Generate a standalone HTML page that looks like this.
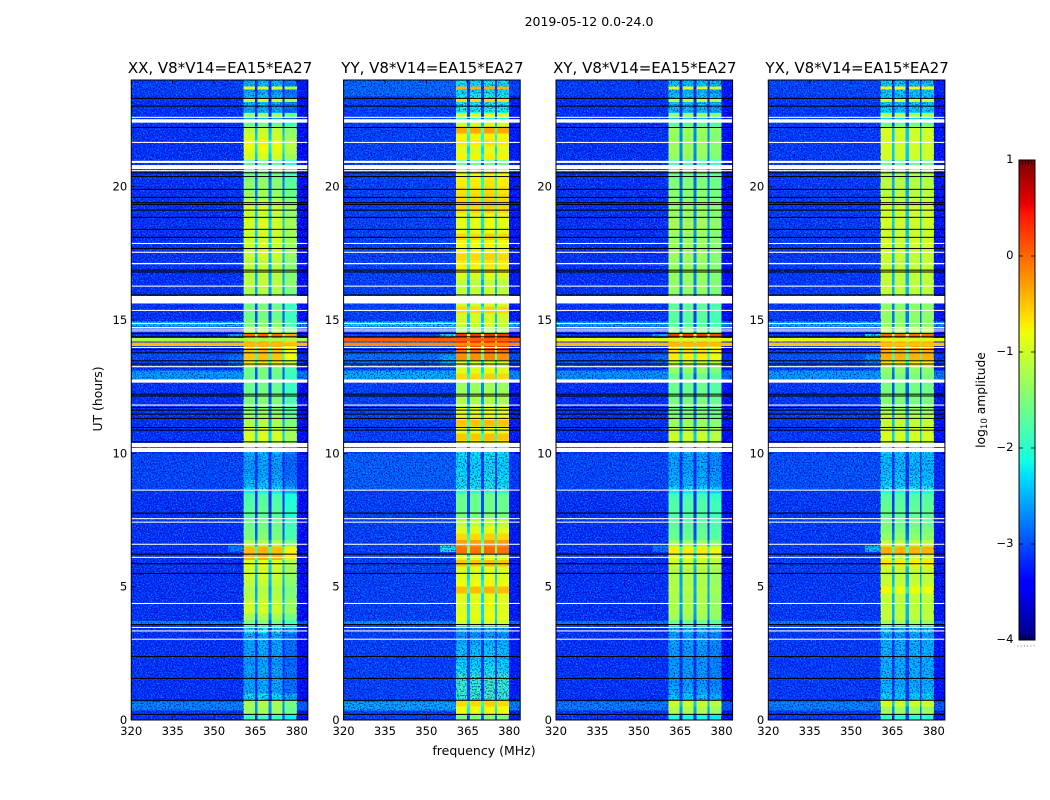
<!DOCTYPE html>
<html lang="en">
<head>
<meta charset="utf-8">
<title>2019-05-12 amplitude dynamic spectra</title>
<style>
html,body{margin:0;padding:0;background:#fff;width:1050px;height:800px;overflow:hidden}
svg{display:block}
text{font-family:"DejaVu Sans","Liberation Sans",sans-serif;fill:#000}
</style>
</head>
<body>
<svg id="chart" xmlns="http://www.w3.org/2000/svg" width="1050" height="800" viewBox="0 0 1050 800">
<defs>
<filter id="speckle" x="0" y="0" width="100%" height="100%" color-interpolation-filters="sRGB">
<feTurbulence type="fractalNoise" baseFrequency="0.72" numOctaves="2" seed="7"/>
<feColorMatrix type="matrix" values="0 0 0 0 0  0 0 0 0 0.6  0 0 0 0 1  5 0 0 0 -2.5"/>
</filter>
<filter id="speckle-dark" x="0" y="0" width="100%" height="100%" color-interpolation-filters="sRGB">
<feTurbulence type="fractalNoise" baseFrequency="0.66" numOctaves="2" seed="23"/>
<feColorMatrix type="matrix" values="0 0 0 0 0  0 0 0 0 0  0 0 0 0 0.7  0 5 0 0 -2.5"/>
</filter>
</defs>
<text x="589" y="26" text-anchor="middle" font-size="12.5">2019-05-12 0.0-24.0</text>
<text x="484" y="755" text-anchor="middle" font-size="12.5">frequency (MHz)</text>
<text x="102" y="399" text-anchor="middle" font-size="12.4" transform="rotate(-90 102 399)">UT (hours)</text>
<text x="985" y="400" text-anchor="middle" font-size="12.3" transform="rotate(-90 985 400)">log<tspan font-size="8.6" dy="2">10</tspan><tspan dy="-2"> amplitude</tspan></text>
<g id="panels"></g>
<g id="colorbar"></g>
</svg>
<script>
// ---------- data ----------
const panelTitles = ['XX, V8*V14=EA15*EA27', 'YY, V8*V14=EA15*EA27', 'XY, V8*V14=EA15*EA27', 'YX, V8*V14=EA15*EA27'];
const freqTicks = [320, 335, 350, 365, 380];
const hourTicks = [0, 5, 10, 15, 20];
const colorTicks = [1, 0, -1, -2, -3, -4];

// frequency edges (MHz): background, spw1, gap, spw2, gap, spw3, gap, spw4, background
const freqEdges = [320, 360.7, 364.8, 365.8, 369.8, 370.9, 374.9, 375.6, 380, 384];

// in-band log10 amplitude, one value per quarter hour, hour 0 to 24
const xxBand = [
 -1.9,-1.3,-1.25,-2.2, -2.5,-2.5,-2.55,-2.5, -2.55,-2.55,-2.5,-2.5, -2.5,-2.2,-1.5,-1.25,
 -1.0,-1.05,-1.15,-1.2, -1.1,-1.05,-1.0,-0.9, -0.4,-0.45,-1.2,-1.5, -1.55,-1.6,-1.7,-1.7,
 -1.75,-1.8,-2.2,-2.4, -2.5,-2.55,-2.55,-2.5, -2.3,-1.0,-0.95,-1.0, -1.2,-1.3,-1.4,-1.5,
 -1.5,-1.6,-1.6,-1.6, -1.55,-0.7,-0.5,-0.45, -0.3,0.0,-1.2,-1.5, -1.6,-1.6,-1.6,-1.3,
 -1.2,-1.1,-1.15,-1.1, -1.15,-1.05,-1.0,-1.0, -1.0,-1.0,-0.95,-1.05, -1.0,-1.1,-1.3,-1.35,
 -1.4,-1.5,-1.6,-1.7, -1.0,-0.85,-0.8,-1.0, -1.1,-1.6,-2.5,-2.5, -2.4,-2.4,-2.5,-2.4
];
const yyBand = [
 -1.5,-0.8,-0.6,-1.9, -1.9,-1.9,-2.0,-2.2, -2.25,-2.35,-2.35,-2.45, -2.6,-2.5,-1.0,-0.85,
 -0.9,-0.9,-0.9,-0.45, -0.8,-0.9,-0.9,-0.5, -0.9,-0.05,-0.3,-0.6, -0.9,-1.1,-1.5,-1.6,
 -1.6,-1.6,-2.0,-2.2, -2.2,-2.25,-2.25,-2.2, -2.1,-0.6,-0.5,-0.85, -0.5,-0.85,-0.85,-1.2,
 -1.2,-1.3,-1.3,-0.6, -0.9,-0.9,-0.2,0.0, 0.55,0.3,-1.3,-1.0, -1.0,-0.6,-1.0,-1.0,
 -1.1,-1.1,-0.95,-0.75, -0.7,-0.6,-0.8,-0.8, -0.6,-0.85,-0.85,-0.85, -0.6,-0.55,-0.6,-0.65,
 -0.7,-0.75,-0.95,-1.6, -0.75,-0.9,-0.7,-0.75, -0.35,-1.0,-2.1,-2.1, -2.1,-2.1,-2.2,-2.2
];
const xyBand = [
 -2.1,-1.2,-1.0,-2.3, -2.5,-2.55,-2.55,-2.55, -2.55,-2.55,-2.55,-2.5, -2.55,-2.4,-1.6,-1.25,
 -1.2,-1.2,-1.2,-1.15, -1.2,-1.2,-1.15,-1.0, -0.9,-0.7,-1.3,-1.6, -1.65,-1.7,-1.75,-1.75,
 -1.75,-1.85,-2.2,-2.4, -2.45,-2.5,-2.5,-2.5, -2.3,-1.05,-1.0,-1.1, -1.3,-1.45,-1.5,-1.5,
 -1.55,-1.6,-1.6,-1.6, -1.35,-1.0,-0.7,-0.6, -0.3,0.3,-1.5,-1.7, -1.7,-1.7,-1.7,-1.4,
 -1.35,-1.35,-1.35,-1.3, -1.35,-1.3,-1.3,-1.3, -1.3,-1.25,-1.25,-1.3, -1.3,-1.3,-1.4,-1.4,
 -1.45,-1.5,-1.6,-1.8, -1.35,-1.3,-1.3,-1.35, -1.3,-1.7,-2.4,-2.4, -2.3,-2.3,-2.4,-2.3
];
const yxBand = [
 -2.0,-1.3,-1.0,-2.25, -2.4,-2.45,-2.45,-2.45, -2.45,-2.45,-2.45,-2.45, -2.5,-2.35,-1.3,-1.1,
 -1.1,-1.1,-1.1,-0.8, -1.05,-1.1,-1.05,-0.7, -1.0,-0.4,-1.1,-1.4, -1.5,-1.6,-1.65,-1.65,
 -1.7,-1.75,-2.1,-2.3, -2.35,-2.4,-2.4,-2.4, -2.2,-1.0,-0.95,-1.0, -1.05,-1.1,-1.3,-1.5,
 -1.5,-1.55,-1.55,-1.5, -1.4,-0.7,-0.4,-0.35, -0.3,0.0,-1.2,-1.4, -1.4,-1.4,-1.4,-1.2,
 -1.1,-1.1,-1.1,-1.05, -1.1,-1.05,-1.0,-1.0, -1.0,-1.05,-1.0,-1.0, -1.0,-1.05,-1.1,-1.15,
 -1.15,-1.2,-1.3,-1.6, -1.0,-1.0,-0.95,-1.0, -1.0,-1.6,-2.3,-2.3, -2.3,-2.3,-2.3,-2.3
];

// per-sub-band offsets added to the in-band level
const xxGain = [0, 0.05, 0, -0.3];
const yyGain = [0, 0, 0.05, 0];
const xyGain = [0, 0, 0, -0.12];
const yxGain = [0.03, 0, 0, 0];
const gapDrop = [1.4];

// background level outside the band
const bgLevels = [-3.17, -3.08, -3.17, -3.12];
const bgRightDrop = [0.2];

// narrow in-band strips
const bandStripStart = [23.65, 23.17, 22.6];
const bandStripEnd = [23.75, 23.3, 22.76];
const xxStrip = [-0.9, -1.0, -1.3];
const yyStrip = [-0.4, -0.6, -1.0];
const xyStrip = [-0.9, -1.1, -1.3];
const yxStrip = [-0.8, -1.0, -1.2];

// out-of-band brightening, hour ranges
const bgStripStart = [0.35, 3.56, 8.6, 12.77, 13.2, 14.75, 23.4];
const bgStripEnd = [0.7, 3.72, 10.0, 13.1, 13.8, 14.95, 24];
const xxBgStrip = [-2.7, -2.7, -3.05, -2.55, -3.0, -2.35, -3.1];
const yyBgStrip = [-2.5, -2.6, -2.9, -2.45, -2.8, -2.2, -2.85];
const xyBgStrip = [-2.75, -2.75, -3.05, -2.6, -3.0, -2.5, -3.1];
const yxBgStrip = [-2.7, -2.7, -3.0, -2.55, -2.95, -2.4, -3.05];

// shoulder leaking below the band (355 to 360.7 MHz)
const shoulderStart = [6.3, 13.3, 14.38];
const shoulderEnd = [6.55, 13.7, 14.48];
const xxShoulder = [-2.75, -2.8, -2.5];
const yyShoulder = [-2.15, -2.5, -2.0];
const xyShoulder = [-2.8, -2.85, -2.5];
const yxShoulder = [-2.4, -2.65, -2.2];

// strong broadband interference across the whole width
const rfiStart = [14.03, 14.2];
const rfiEnd = [14.15, 14.32];
const xxRfi = [-0.45, -1.2];
const yyRfi = [-0.2, 0.05];
const xyRfi = [-0.45, -0.9];
const yxRfi = [-0.5, -0.9];

// faint band hour ranges that carry visible grain
const grainBandStart = [0.75, 8.6, 22.8];
const grainBandEnd = [3.5, 10.2, 24];

// flagged time ranges (hours)
const whiteStart = [22.58,22.4,21.64,20.89,20.66,20.58,17.85,17.52,17.09,16.25,15.62,15.34,14.85,14.7,14.64,14.57,13.95,13.23,12.65,11.79,10.23,10.05,8.6,7.53,7.4,6.57,6.08,4.35,3.45,3.32,3.01];
const whiteEnd   = [22.62,22.53,21.68,20.97,20.81,20.62,17.89,17.56,17.14,16.29,15.9,15.38,14.89,14.74,14.68,14.61,13.99,13.27,12.77,11.83,10.39,10.2,8.64,7.57,7.44,6.61,6.12,4.39,3.49,3.36,3.05];
const blackHours = [23.31,23.02,22.22,20.52,20.38,19.9,19.6,19.4,19.33,19.12,18.85,18.4,18.1,17.68,16.87,16.8,15.94,14.5,14.37,13.9,13.77,13.47,13.35,12.22,12.15,11.72,11.62,11.47,11.31,10.97,10.87,10.43,7.76,6.22,5.86,5.5,3.58,2.38,1.56,0.74,0.21];

const bandSets = [xxBand, yyBand, xyBand, yxBand];
const gainSets = [xxGain, yyGain, xyGain, yxGain];
const stripSets = [xxStrip, yyStrip, xyStrip, yxStrip];
const bgStripSets = [xxBgStrip, yyBgStrip, xyBgStrip, yxBgStrip];
const shoulderSets = [xxShoulder, yyShoulder, xyShoulder, yxShoulder];
const rfiSets = [xxRfi, yyRfi, xyRfi, yxRfi];

// ---------- scales ----------
const NS = 'http://www.w3.org/2000/svg';
const panelLefts = [131.25, 343.6, 556, 768.3];
const panelWidth = 176.6, plotTop = 80, plotBottom = 720;
const vMin = -4, vMax = 1;
function yScale(h) { return plotBottom - (h / 24) * (plotBottom - plotTop); }
function xScale(panel, f) { return panelLefts[panel] + (f - 320) / 64 * panelWidth; }
function interp(x, pts) {
  for (let i = 1; i < pts.length; i++) {
    if (x <= pts[i][0]) {
      const t = (x - pts[i-1][0]) / (pts[i][0] - pts[i-1][0]);
      return pts[i-1][1] + t * (pts[i][1] - pts[i-1][1]);
    }
  }
  return pts[pts.length-1][1];
}
function jet(v) {
  const x = Math.max(0, Math.min(1, (v - vMin) / (vMax - vMin)));
  const r = interp(x, [[0,0],[0.35,0],[0.66,1],[0.89,1],[1,0.5]]);
  const g = interp(x, [[0,0],[0.125,0],[0.375,1],[0.64,1],[0.91,0],[1,0]]);
  const b = interp(x, [[0,0.5],[0.11,1],[0.34,1],[0.65,0],[1,0]]);
  return 'rgb(' + Math.round(r*255) + ',' + Math.round(g*255) + ',' + Math.round(b*255) + ')';
}
function make(parent, tag, attrs) {
  const el = document.createElementNS(NS, tag);
  for (const k in attrs) el.setAttribute(k, attrs[k]);
  parent.appendChild(el);
  return el;
}
function cell(g, p, f0, f1, h0, h1, v) {
  const y0 = yScale(h1), y1 = yScale(h0);
  const el = make(g, 'rect', {x: xScale(p, f0), y: y0, width: xScale(p, f1) - xScale(p, f0), height: y1 - y0, fill: jet(v), 'shape-rendering': 'crispEdges'});
  
  
  return el;
}
function grain(g, p, f0, f1, h0, h1, opLight, opDark) {
  const box = {x: xScale(p, f0), y: yScale(h1), width: xScale(p, f1) - xScale(p, f0), height: yScale(h0) - yScale(h1)};
  const a = make(g, 'rect', Object.assign({filter: 'url(#speckle)', opacity: opLight}, box));
  
  
  const b = make(g, 'rect', Object.assign({filter: 'url(#speckle-dark)', opacity: opDark}, box));
  
  
}

const panelsRoot = document.getElementById('panels');
panelTitles.forEach(function (title, p) {
  const g = make(panelsRoot, 'g', {});
  
  
  const clipId = 'clip' + p;
  const defs = make(g, 'defs', {});
  const clip = make(defs, 'clipPath', {id: clipId});
  make(clip, 'rect', {x: panelLefts[p], y: plotTop, width: panelWidth, height: plotBottom - plotTop});
  const heat = make(g, 'g', {'clip-path': 'url(#' + clipId + ')'});
  
  

  const band = bandSets[p], gain = gainSets[p];
  // base background
  cell(heat, p, freqEdges[0], freqEdges[1], 0, 24, bgLevels[p]);
  cell(heat, p, freqEdges[8], freqEdges[9], 0, 24, bgLevels[p] - bgRightDrop[0]);
  bgStripSets[p].forEach(function (v, i) {
    cell(heat, p, freqEdges[0], freqEdges[1], bgStripStart[i], bgStripEnd[i], v);
    cell(heat, p, freqEdges[8], freqEdges[9], bgStripStart[i], bgStripEnd[i], v - bgRightDrop[0]);
  });
  shoulderSets[p].forEach(function (v, i) {
    cell(heat, p, 355, freqEdges[1], shoulderStart[i], shoulderEnd[i], v);
  });
  // band rows
  band.forEach(function (v, r) {
    const h0 = r * 24 / band.length, h1 = (r + 1) * 24 / band.length;
    for (let c = 0; c < 4; c++) {
      cell(heat, p, freqEdges[1 + 2*c], freqEdges[2 + 2*c], h0, h1, v + gain[c]);
      if (c < 3) cell(heat, p, freqEdges[2 + 2*c], freqEdges[3 + 2*c], h0, h1, Math.max(v - gapDrop[0], bgLevels[p]));
    }
  });

  // decorative grain: strong off-band, weak on-band
  grain(heat, p, freqEdges[0], freqEdges[1], 0, 24, 0.85, 0.8);
  grain(heat, p, freqEdges[8], freqEdges[9], 0, 24, 0.6, 0.8);
  grainBandStart.forEach(function (h0, i) {
    grain(heat, p, freqEdges[1], freqEdges[8], h0, grainBandEnd[i], 0.55, 0.7);
  });

  stripSets[p].forEach(function (v, i) {
    for (let c = 0; c < 4; c++) {
      cell(heat, p, freqEdges[1 + 2*c], freqEdges[2 + 2*c], bandStripStart[i], bandStripEnd[i], v + gain[c]);
    }
  });
  rfiSets[p].forEach(function (v, i) {
    cell(heat, p, 320, 384, rfiStart[i], rfiEnd[i], v);
  });

  // flags
  whiteStart.forEach(function (h0, i) {
    const y0 = yScale(whiteEnd[i]), y1 = yScale(h0);
    const el = make(heat, 'rect', {x: panelLefts[p], y: y0, width: panelWidth, height: y1 - y0, fill: '#fff'});
    
    
  });
  blackHours.forEach(function (h) {
    const el = make(heat, 'rect', {x: panelLefts[p], y: yScale(h) - 0.5, width: panelWidth, height: 1, fill: '#000'});
    
    
  });

  // frame
  const L = panelLefts[p], R = L + panelWidth;
  const frame = make(g, 'rect', {x: L, y: plotTop, width: panelWidth, height: plotBottom - plotTop, fill: 'none', stroke: '#000', 'stroke-width': 1});
  
  

  // ticks + labels
  freqTicks.forEach(function (f) {
    const x = xScale(p, f);
    make(g, 'line', {x1: x, x2: x, y1: plotBottom, y2: plotBottom - 4, stroke: '#000', 'stroke-width': 0.8});
    make(g, 'line', {x1: x, x2: x, y1: plotTop, y2: plotTop + 4, stroke: '#000', 'stroke-width': 0.8});
    const t = make(g, 'text', {x: x, y: plotBottom + 15, 'text-anchor': 'middle', 'font-size': 11.6});
    t.textContent = String(f);
    
    
  });
  hourTicks.forEach(function (h) {
    const y = yScale(h);
    make(g, 'line', {x1: L, x2: L + 4, y1: y, y2: y, stroke: '#000', 'stroke-width': 0.8});
    make(g, 'line', {x1: R, x2: R - 4, y1: y, y2: y, stroke: '#000', 'stroke-width': 0.8});
    const t = make(g, 'text', {x: L - 4, y: y + 4, 'text-anchor': 'end', 'font-size': 11.6});
    t.textContent = String(h);
    
    
  });
  const tt = make(g, 'text', {x: L + panelWidth / 2 + 0.5, y: 73, 'text-anchor': 'middle', 'font-size': 15});
  tt.textContent = title;
  
  
});

// ---------- colorbar ----------
const cb = document.getElementById('colorbar');
const cbL = 1019, cbR = 1035, cbT = 160, cbB = 640;
function cbY(v) { return cbB - (v - vMin) / (vMax - vMin) * (cbB - cbT); }
for (let i = 0; i < 240; i++) {
  const v0 = vMin + (vMax - vMin) * i / 240, v1 = vMin + (vMax - vMin) * (i + 1) / 240;
  const r = make(cb, 'rect', {x: cbL, y: cbY(v1), width: cbR - cbL, height: cbY(v0) - cbY(v1) + 0.4, fill: jet((v0 + v1) / 2), 'shape-rendering': 'crispEdges'});
  
  
}
const cbFrame = make(cb, 'rect', {x: cbL, y: cbT, width: cbR - cbL, height: cbB - cbT, fill: 'none', stroke: '#000', 'stroke-width': 1});


colorTicks.forEach(function (v) {
  const y = cbY(v);
  make(cb, 'line', {x1: cbL, x2: cbL + 4, y1: y, y2: y, stroke: '#000', 'stroke-width': 0.8});
  make(cb, 'line', {x1: cbR, x2: cbR - 4, y1: y, y2: y, stroke: '#000', 'stroke-width': 0.8});
  const t = make(cb, 'text', {x: 1013.5, y: y + 3, 'text-anchor': 'end', 'font-size': 11.6});
  t.textContent = (v < 0 ? '\u2212' + (-v) : String(v));
  
  
});
for (let i = 0; i < 6; i++) {
  const x = cbL + (cbR - cbL) * i / 5;
  make(cb, 'line', {x1: x, x2: x, y1: cbT, y2: cbT + 5, stroke: '#000', 'stroke-width': 0.8});
  make(cb, 'line', {x1: x, x2: x, y1: cbB, y2: cbB - 5, stroke: '#000', 'stroke-width': 0.8});
  const dot = make(cb, 'rect', {x: x - 1.5, y: 645.5, width: 1, height: 1, fill: '#777'});
  
  
}
</script>
</body>
</html>
